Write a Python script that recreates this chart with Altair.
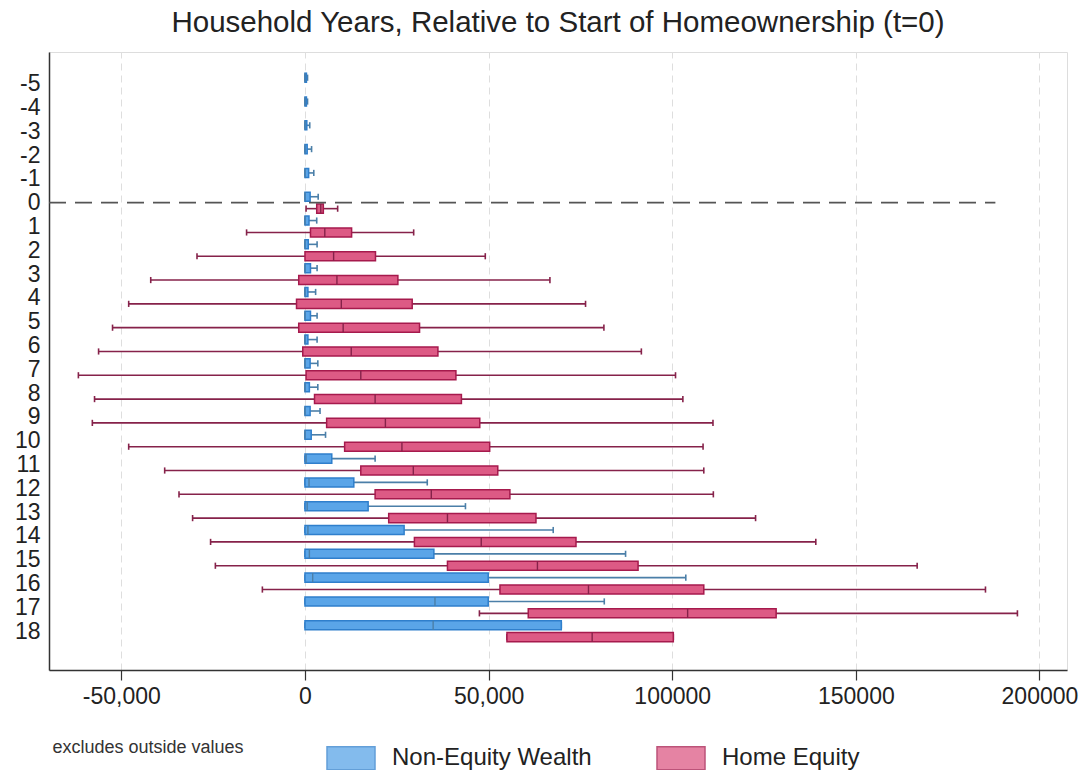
import altair as alt
import pandas as pd

# Household years relative to the start of homeownership
YEARS_NEW = list(range(-5, 19))
YEARS_HE = list(range(0, 19))

# Non-Equity Wealth box statistics (dollars), years -5 .. 18
NEW_LOW = [0] * 24
NEW_Q1 = [0] * 24
NEW_MED = [0, 0, 0, 0, 0, 0, 0, 0, 0, 0, 0, 0, 0, 0, 0, 0,
           300, 1100, 600, 800, 1200, 2100, 35400, 34900]
NEW_Q3 = [400, 400, 500, 600, 1000, 1400, 1100, 900, 1500, 800, 1500, 800,
          1400, 1200, 1400, 1700, 7300, 13300, 17200, 27000, 35100, 49900,
          49900, 69800]
NEW_HIGH = [700, 700, 1300, 1800, 2400, 3600, 3200, 3300, 3300, 2900, 3300,
            3300, 3500, 3500, 4100, 5600, 19100, 33300, 43700, 67600, 87300,
            103700, 81500, 69800]

# Home Equity box statistics (dollars), years 0 .. 18
HE_LOW = [300, -15900, -29400, -42000, -48000, -52400, -56200, -61700,
          -57300, -57900, -48000, -38200, -34300, -30600, -25700, -24400,
          -11600, 47500, 55000]
HE_Q1 = [3200, 1500, 0, -1700, -2300, -1700, -600, 300, 2600, 5900, 10800,
         15200, 19100, 22800, 29800, 38800, 53100, 60800, 55000]
HE_MED = [4300, 5400, 7800, 8700, 9900, 10400, 12600, 15200, 19100, 21900,
          26400, 29500, 34400, 38800, 48000, 63300, 77200, 104200, 78200]
HE_Q3 = [5000, 12700, 19200, 25300, 29200, 31200, 36200, 41100, 42600,
         47600, 50300, 52500, 55800, 62900, 73800, 90700, 108600, 128300,
         100300]
HE_HIGH = [8900, 29600, 49100, 66700, 76400, 81400, 91600, 100900, 102900,
           111100, 108400, 108600, 111200, 122700, 139100, 166700, 185300,
           194000, 100300]

SERIES = ["Non-Equity Wealth", "Home Equity"]
BOX_FILL = ["#5aa5e8", "#dd5a85"]
BOX_STROKE = ["#2f7fcc", "#a61a4d"]
WHISKER = ["#4b7fa8", "#86224a"]

X_TICKS = [-50000, 0, 50000, 100000, 150000, 200000]
X_TICK_LABELS = ["-50,000", "0", "50,000", "100000", "150000", "200000"]
X_MIN, X_MAX = -69700, 207500

# reference line marking the first year of homeownership
REF_YEAR = 0
REF_END = 188000

FONT = "Liberation Sans"

rows = []
for i, yr in enumerate(YEARS_NEW):
    rows.append(dict(series=SERIES[0], year=yr, lw=NEW_LOW[i], q1=NEW_Q1[i],
                     med=NEW_MED[i], q3=NEW_Q3[i], uw=NEW_HIGH[i]))
for i, yr in enumerate(YEARS_HE):
    rows.append(dict(series=SERIES[1], year=yr, lw=HE_LOW[i], q1=HE_Q1[i],
                     med=HE_MED[i], q3=HE_Q3[i], uw=HE_HIGH[i]))
df = pd.DataFrame(rows)

label_expr = ""
for v, lab in zip(X_TICKS, X_TICK_LABELS):
    label_expr += f"datum.value == {v} ? '{lab}' : "
label_expr += "''"

x_scale = alt.Scale(domain=[X_MIN, X_MAX], nice=False, zero=False)
y_scale = alt.Scale(domain=[-6.33, 19.63], reverse=True, nice=False, zero=False)

x_axis = alt.Axis(
    values=X_TICKS, labelExpr=label_expr, grid=True, gridDash=[7, 5],
    gridColor="#dedede", gridWidth=1, tickSize=10, tickColor="#333",
    tickWidth=1.2, domainColor="#333", domainWidth=1.5, labelFontSize=23,
    labelFont=FONT, labelColor="#222", labelPadding=5,
    title="excludes outside values", titleFont=FONT, titleFontSize=18,
    titleFontWeight="normal", titleColor="#333", titleAnchor="start",
    titleAlign="left", titleBaseline="middle", titleX=3, titleY=77,
)
y_axis = alt.Axis(
    values=YEARS_NEW, labelExpr="(datum.value < 0 ? '-' : '') + abs(datum.value)",
    ticks=False, grid=False, domainColor="#333", domainWidth=1.5,
    labelFontSize=23, labelFont=FONT, labelColor="#222", labelPadding=9,
    title=None,
)


def X(field):
    return alt.X(field, type="quantitative", scale=x_scale, axis=x_axis)


def Y(field):
    return alt.Y(field, type="quantitative", scale=y_scale, axis=y_axis)


whisker_color = alt.condition(alt.datum.series == SERIES[1],
                              alt.value(WHISKER[1]), alt.value(WHISKER[0]))

base = alt.Chart(df).transform_calculate(
    yc=f"datum.year + (datum.series == '{SERIES[1]}' ? 0.25 : -0.25)"
).transform_calculate(
    ylo="datum.yc - 0.19", yhi="datum.yc + 0.19",
    clo="datum.yc - 0.13", chi="datum.yc + 0.13",
)

whiskers = base.mark_rule(strokeWidth=1.6).encode(
    x=X("lw"), x2="uw:Q", y=Y("yc"), color=whisker_color,
)

caps = base.transform_fold(["lw", "uw"], as_=["end", "xv"]).mark_rule(
    strokeWidth=1.6
).encode(
    x=X("xv"), y=Y("clo"), y2="chi:Q", color=whisker_color,
)

legend = alt.Legend(
    title=None, orient="none", direction="horizontal", legendX=277,
    legendY=681, symbolType="M-1,-0.48H1V0.48H-1Z", symbolSize=2304,
    symbolStrokeWidth=1.5, symbolOpacity=0.75, labelFont=FONT,
    labelFontSize=24, labelColor="#222", labelOffset=16, labelLimit=0,
    columnPadding=62, padding=0,
)

boxes = base.mark_rect(strokeWidth=1.5).encode(
    x=X("q1"), x2="q3:Q", y=Y("ylo"), y2="yhi:Q",
    fill=alt.Fill("series:N", scale=alt.Scale(domain=SERIES, range=BOX_FILL),
                  legend=legend),
    stroke=alt.Stroke("series:N",
                      scale=alt.Scale(domain=SERIES, range=BOX_STROKE),
                      legend=legend),
)

medians = base.mark_rule(strokeWidth=1.4).encode(
    x=X("med"), y=Y("ylo"), y2="yhi:Q", color=whisker_color,
)

ref = alt.Chart(pd.DataFrame({"year": [REF_YEAR], "start": [X_MIN],
                              "end": [REF_END]})).mark_rule(
    color="#555", strokeWidth=1.8, strokeDash=[17, 9]
).encode(x=X("start"), x2="end:Q", y=Y("year"))

chart = alt.layer(whiskers, caps, boxes, medians, ref).properties(
    width=1018, height=618,
    title=alt.Title(
        "Household Years, Relative to Start of Homeownership (t=0)",
        font=FONT, fontSize=29.5, fontWeight="normal", color="#222",
        anchor="middle", offset=14,
    ),
    autosize=alt.AutoSizeParams(type="none"),
    padding={"left": 49, "top": 52, "right": 16, "bottom": 100},
).configure_view(stroke=None).configure(background="white")

chart.save("out.html", embed_options={"renderer": "svg", "actions": False})
